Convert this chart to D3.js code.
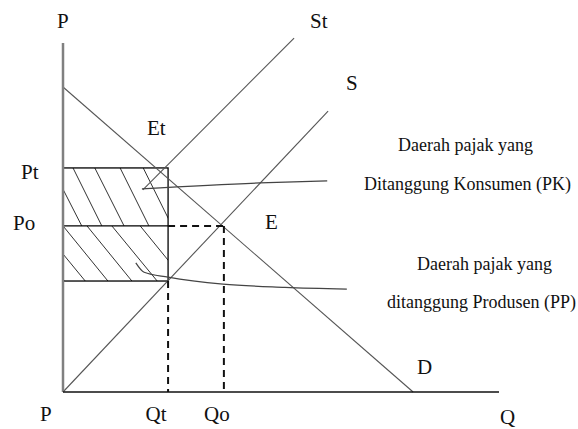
<!DOCTYPE html>
<html>
<head>
<meta charset="utf-8">
<script src="https://cdn.jsdelivr.net/npm/d3@7"></script>
<style>
  body { margin: 0; background: #fff; }
</style>
</head>
<body>
<script>
// quantities (Q) and prices (P) in chart units
let qMax = 100, pMax = 100;
let Qt = 24.1, Qo = 36.9;
let Pt = 64.2, Po = 47.6, Pp = 31.8;

let demand = [[0, 87.4], [80.3, 0]];
let supply = [[0, 0], [60.8, 80.5]];
let supplyTax = [[18.3, 57.9], [53.0, 101.4]];

// leader lines from the shaded areas to the notes
let leaderPK = [[18.1, 58.2], [45.2, 59.9], [60.6, 60.5]];
let leaderPP = [[16.7, 37.0], [18.6, 34.3], [24.1, 32.9], [36.7, 30.9], [50.9, 30.0], [65.1, 29.5]];

// hatch strokes: [Q at top edge, Q at bottom edge] of each band
let hatchPK = [[-2.5, 4.3], [2.3, 8.9], [7.3, 14.0], [13.1, 19.7], [18.4, 25.0]];
let hatchPP = [[-10.0, 0.3], [-5.3, 5.1], [0, 10.3], [5.5, 15.8], [11.2, 21.6], [17.7, 28.0]];

let notes = [
  {text: "Daerah pajak yang", x: 398, y: 151},
  {text: "Ditanggung Konsumen (PK)", x: 364, y: 190},
  {text: "Daerah pajak yang", x: 417, y: 270},
  {text: "ditanggung Produsen (PP)", x: 387, y: 308}
];

let w = 578, h = 429;
let x = d3.scaleLinear().domain([0, qMax]).range([63, 499]);
let y = d3.scaleLinear().domain([0, pMax]).range([392, 43]);

let svg = d3.select("body").append("svg").attr("width", w).attr("height", h)
  .attr("font-family", "'Liberation Serif', 'DejaVu Serif', serif");
let line = d3.line().x(d => x(d[0])).y(d => y(d[1]));
let smooth = d3.line().x(d => x(d[0])).y(d => y(d[1])).curve(d3.curveMonotoneX);

// clip areas for the two hatched bands
let defs = svg.append("defs");
defs.append("clipPath").attr("id", "clipPK").append("rect")
  .attr("x", x(0)).attr("y", y(Pt)).attr("width", x(Qt) - x(0)).attr("height", y(Po) - y(Pt));
defs.append("clipPath").attr("id", "clipPP").append("rect")
  .attr("x", x(0)).attr("y", y(Po)).attr("width", x(Qt) - x(0)).attr("height", y(Pp) - y(Po));

svg.append("g").attr("clip-path", "url(#clipPK)")
  .selectAll("line").data(hatchPK).enter().append("line")
  .attr("x1", d => x(d[0])).attr("y1", y(Pt))
  .attr("x2", d => x(d[1])).attr("y2", y(Po))
  .attr("stroke", "#333").attr("stroke-width", 1);

svg.append("g").attr("clip-path", "url(#clipPP)")
  .selectAll("line").data(hatchPP).enter().append("line")
  .attr("x1", d => x(d[0])).attr("y1", y(Po))
  .attr("x2", d => x(d[1])).attr("y2", y(Pp))
  .attr("stroke", "#333").attr("stroke-width", 1);

// tax rectangle split at Po
svg.append("rect")
  .attr("x", x(0)).attr("y", y(Pt))
  .attr("width", x(Qt) - x(0)).attr("height", y(Pp) - y(Pt))
  .attr("fill", "none").attr("stroke", "#000").attr("stroke-width", 1.3);
svg.append("line")
  .attr("x1", x(0)).attr("x2", x(Qt)).attr("y1", y(Po)).attr("y2", y(Po))
  .attr("stroke", "#000").attr("stroke-width", 1.3);

// curves
[demand, supply, supplyTax].forEach(c => {
  svg.append("path").attr("d", line(c))
    .attr("fill", "none").attr("stroke", "#555").attr("stroke-width", 1.1);
});

[leaderPK, leaderPP].forEach(c => {
  svg.append("path").attr("d", smooth(c))
    .attr("fill", "none").attr("stroke", "#444").attr("stroke-width", 1.2);
});

// dashed guides
let dash = svg.append("g").attr("stroke", "#111").attr("stroke-width", 2).attr("stroke-dasharray", "7,5");
dash.append("line").attr("x1", x(Qt)).attr("x2", x(Qo)).attr("y1", y(Po)).attr("y2", y(Po));
dash.append("line").attr("x1", x(Qo)).attr("x2", x(Qo)).attr("y1", y(Po)).attr("y2", y(0));
dash.append("line").attr("x1", x(Qt)).attr("x2", x(Qt)).attr("y1", y(Pp)).attr("y2", y(0));

// axes
svg.append("line").attr("x1", x(0)).attr("x2", x(0)).attr("y1", y(pMax)).attr("y2", y(0))
  .attr("stroke", "#808080").attr("stroke-width", 2.5);
svg.append("line").attr("x1", x(0)).attr("x2", x(qMax)).attr("y1", y(0)).attr("y2", y(0))
  .attr("stroke", "#111").attr("stroke-width", 1.5);

// labels
let big = svg.append("g").attr("font-size", 21).attr("fill", "#111");
big.append("text").attr("x", 57).attr("y", 28).text("P");
big.append("text").attr("x", 147).attr("y", 135).text("Et");
big.append("text").attr("x", 21).attr("y", y(Pt) + 11).text("Pt");
big.append("text").attr("x", 13).attr("y", y(Po) + 4).text("Po");
big.append("text").attr("x", 265).attr("y", 229).text("E");
big.append("text").attr("x", 310).attr("y", 28).text("St");
big.append("text").attr("x", 346).attr("y", 90).text("S");
big.append("text").attr("x", 417).attr("y", 374).text("D");
big.append("text").attr("x", 40).attr("y", 421).text("P");
big.append("text").attr("x", x(Qt) - 12).attr("text-anchor", "middle").attr("y", 421).text("Qt");
big.append("text").attr("x", x(Qo) - 7).attr("text-anchor", "middle").attr("y", 421).text("Qo");
big.append("text").attr("x", 500).attr("y", 424).text("Q");

svg.append("g").attr("font-size", 18).attr("fill", "#111")
  .selectAll("text").data(notes).enter().append("text")
  .attr("x", d => d.x).attr("y", d => d.y).text(d => d.text);
</script>
</body>
</html>
